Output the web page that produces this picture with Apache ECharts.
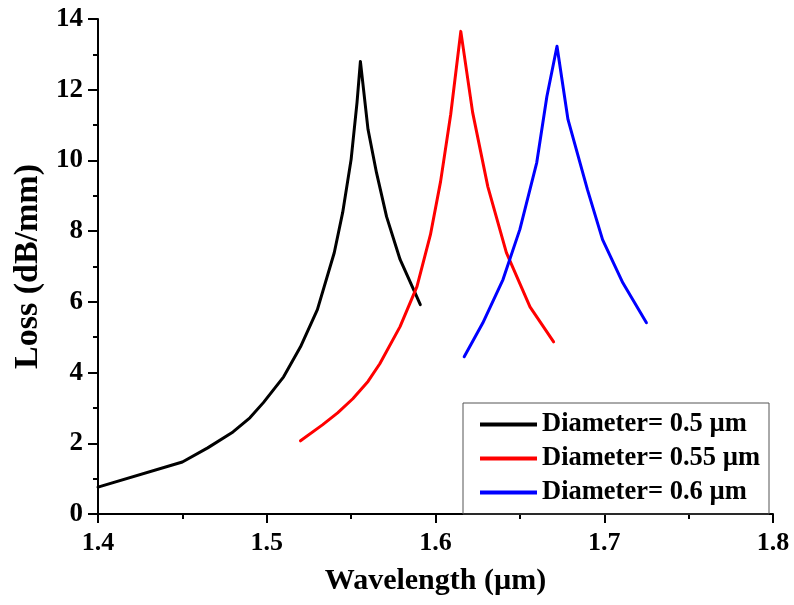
<!DOCTYPE html>
<html style="height: 100%">
   <head>
       <meta charset="utf-8">
   </head>
   <body style="height: 100%; margin: 0; background: #fff">
       <div id="container" style="width: 794px; height: 605px"></div>
       <script type="text/javascript" src="https://cdn.jsdelivr.net/npm/echarts@6/dist/echarts.min.js"></script>
       <script type="text/javascript">
// wavelength (um) / loss (dB/mm)
var wl05 = [1.400, 1.450, 1.465, 1.480, 1.490, 1.498, 1.510, 1.520, 1.530, 1.540, 1.545, 1.550, 1.5535, 1.5555, 1.560, 1.565, 1.571, 1.579, 1.591];
var loss05 = [0.76, 1.47, 1.87, 2.32, 2.72, 3.15, 3.88, 4.73, 5.78, 7.39, 8.53, 10.03, 11.64, 12.80, 10.88, 9.66, 8.41, 7.20, 5.92];

var wl055 = [1.520, 1.533, 1.542, 1.551, 1.560, 1.567, 1.579, 1.589, 1.597, 1.603, 1.609, 1.615, 1.622, 1.631, 1.642, 1.656, 1.670];
var loss055 = [2.07, 2.52, 2.86, 3.26, 3.75, 4.25, 5.30, 6.43, 7.90, 9.40, 11.30, 13.65, 11.36, 9.26, 7.39, 5.86, 4.87];

var wl06 = [1.617, 1.628, 1.640, 1.650, 1.660, 1.666, 1.672, 1.6785, 1.690, 1.699, 1.711, 1.725];
var loss06 = [4.45, 5.40, 6.63, 8.05, 9.94, 11.81, 13.23, 11.16, 9.18, 7.76, 6.54, 5.41];

var names = ['Diameter= 0.5 \u00b5m', 'Diameter= 0.55 \u00b5m', 'Diameter= 0.6 \u00b5m'];
var colors = ['#000000', '#ff0000', '#0000ff'];

function pairs(xs, ys) {
    return xs.map(function (x, i) { return [x, ys[i]]; });
}

var font = 'Liberation Serif';
var dom = document.getElementById("container");
var myChart = echarts.init(dom);
var option = {
    animation: false,
    backgroundColor: '#fff',
    textStyle: { fontFamily: font, fontWeight: 'bold', color: '#000' },
    grid: { left: 98, right: 21, top: 19, bottom: 91, containLabel: false },
    legend: {
        orient: 'vertical',
        left: 463,
        top: 403,
        data: names,
        icon: 'rect',
        itemWidth: 57,
        itemHeight: 4,
        itemGap: 7,
        padding: [8, 9, 8, 17],
        borderColor: '#555',
        borderWidth: 1,
        textStyle: { fontFamily: font, fontWeight: 'bold', fontSize: 26.5, color: '#000', lineHeight: 27 }
    },
    xAxis: {
        type: 'value',
        min: 1.4,
        max: 1.8,
        interval: 0.1,
        name: 'Wavelength (\u00b5m)',
        nameLocation: 'middle',
        nameGap: 52,
        nameTextStyle: { fontFamily: font, fontWeight: 'bold', fontSize: 30, color: '#000' },
        axisLine: { lineStyle: { color: '#000', width: 2 } },
        axisTick: { inside: false, length: 9, lineStyle: { color: '#000', width: 2 } },
        minorTick: { show: true, splitNumber: 2, length: 5, lineStyle: { color: '#000', width: 2 } },
        axisLabel: { margin: 16, fontFamily: font, fontWeight: 'bold', fontSize: 26, color: '#000' },
        splitLine: { show: false }
    },
    yAxis: {
        type: 'value',
        min: 0,
        max: 14,
        interval: 2,
        name: 'Loss (dB/mm)',
        nameLocation: 'middle',
        nameGap: 52,
        nameTextStyle: { fontFamily: font, fontWeight: 'bold', fontSize: 34, color: '#000' },
        axisLine: { show: true, lineStyle: { color: '#000', width: 2 } },
        axisTick: { show: true, inside: false, length: 10, lineStyle: { color: '#000', width: 2 } },
        minorTick: { show: true, splitNumber: 2, length: 5, lineStyle: { color: '#000', width: 2 } },
        axisLabel: { margin: 15, fontFamily: font, fontWeight: 'bold', fontSize: 27, color: '#000' },
        splitLine: { show: false }
    },
    series: [
        { name: names[0], data: pairs(wl05, loss05) },
        { name: names[1], data: pairs(wl055, loss055) },
        { name: names[2], data: pairs(wl06, loss06) }
    ].map(function (s, i) {
        s.type = 'line';
        s.showSymbol = false;
        s.symbol = 'none';
        s.smooth = false;
        s.color = colors[i];
        s.lineStyle = { color: colors[i], width: 3, join: 'round', cap: 'round' };
        return s;
    })
};
myChart.setOption(option);
       </script>
   </body>
</html>
